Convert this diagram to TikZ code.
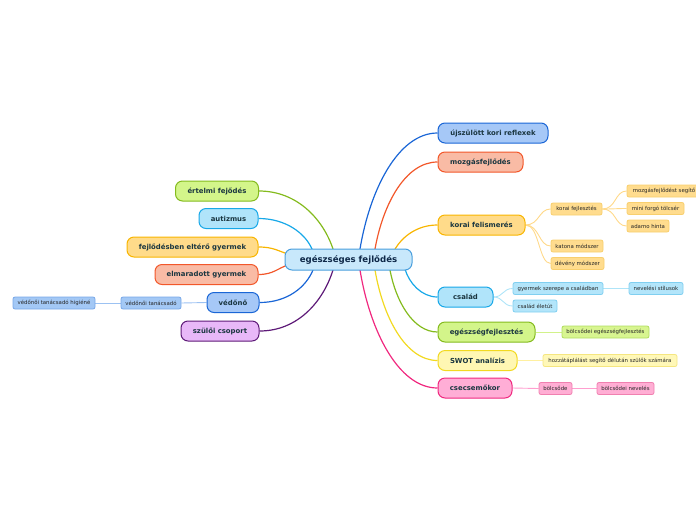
\documentclass[tikz,border=0pt]{standalone}
\usepackage{fontspec}
\setmainfont{DejaVu Sans}
\usetikzlibrary{backgrounds}
\definecolor{maintext}{HTML}{1A3640}
\definecolor{subtext}{HTML}{262626}
\definecolor{centtext}{HTML}{0E2848}
\definecolor{centfill}{HTML}{C8E8FB}
\definecolor{centdraw}{HTML}{4A9FDD}
\definecolor{bluefill}{HTML}{A6C8F7}
\definecolor{bluedraw}{HTML}{1A66D6}
\definecolor{redfill}{HTML}{F9BBA5}
\definecolor{reddraw}{HTML}{F2572A}
\definecolor{orfill}{HTML}{FFDB8A}
\definecolor{ordraw}{HTML}{F8B500}
\definecolor{cyanfill}{HTML}{B0E4FA}
\definecolor{cyandraw}{HTML}{17A8E8}
\definecolor{grfill}{HTML}{D3F58A}
\definecolor{grdraw}{HTML}{84BB1E}
\definecolor{yefill}{HTML}{FFF7B3}
\definecolor{yedraw}{HTML}{F2D920}
\definecolor{pkfill}{HTML}{FFAED6}
\definecolor{pkdraw}{HTML}{F0287F}
\definecolor{pufill}{HTML}{E8B8F8}
\definecolor{pudraw}{HTML}{5E1A78}
% sub node colours
\definecolor{sorfill}{HTML}{FFDC8E}
\definecolor{sordraw}{HTML}{F8CF6E}
\definecolor{sorline}{HTML}{FFD98A}
\definecolor{scyfill}{HTML}{B3E5FA}
\definecolor{scydraw}{HTML}{80CFF0}
\definecolor{scyline}{HTML}{AEE4F8}
\definecolor{sgrfill}{HTML}{D8F590}
\definecolor{sgrdraw}{HTML}{B0DC60}
\definecolor{sgrline}{HTML}{D2F28A}
\definecolor{syefill}{HTML}{FFF8B8}
\definecolor{syedraw}{HTML}{F5E680}
\definecolor{syeline}{HTML}{FFF0A0}
\definecolor{spkfill}{HTML}{FFAED4}
\definecolor{spkdraw}{HTML}{F080B0}
\definecolor{spkline}{HTML}{FF9ECF}
\definecolor{sblfill}{HTML}{A3C8F5}
\definecolor{sbldraw}{HTML}{78A8E8}
\definecolor{sblline}{HTML}{9CC2F2}
\tikzset{
  mainbox/.style={draw, rounded corners=7pt, line width=1pt, inner sep=0pt,
    minimum height=20pt, font=\fontsize{6.9}{8}\selectfont\bfseries, text=maintext},
  centbox/.style={draw=centdraw, fill=centfill, rounded corners=7pt, line width=1pt,
    inner sep=0pt, minimum height=21pt, minimum width=127pt,
    font=\fontsize{8.6}{10}\selectfont\bfseries, text=centtext},
  subbox/.style={draw, rounded corners=2pt, line width=0.8pt, inner sep=0pt,
    minimum height=12pt, font=\fontsize{5.4}{6}\selectfont, text=subtext},
  blue box/.style={mainbox, fill=bluefill, draw=bluedraw},
  red box/.style={mainbox, fill=redfill, draw=reddraw},
  or box/.style={mainbox, fill=orfill, draw=ordraw},
  cyan box/.style={mainbox, fill=cyanfill, draw=cyandraw},
  gr box/.style={mainbox, fill=grfill, draw=grdraw},
  ye box/.style={mainbox, fill=yefill, draw=yedraw},
  pk box/.style={mainbox, fill=pkfill, draw=pkdraw},
  pu box/.style={mainbox, fill=pufill, draw=pudraw},
  sor box/.style={subbox, fill=sorfill, draw=sordraw},
  scy box/.style={subbox, fill=scyfill, draw=scydraw},
  sgr box/.style={subbox, fill=sgrfill, draw=sgrdraw},
  sye box/.style={subbox, fill=syefill, draw=syedraw},
  spk box/.style={subbox, fill=spkfill, draw=spkdraw},
  sbl box/.style={subbox, fill=sblfill, draw=sbldraw},
  conn/.style={line width=1.2pt},
  subconn/.style={line width=0.9pt},
}
\begin{document}
\begin{tikzpicture}[x=1pt,y=-1pt]
\useasboundingbox (0,0) rectangle (696,520);

% central
\node[centbox] (c) at (348.5,259.5) {egészséges fejlődés};

% right main
\node[blue box, minimum width=110pt] (r1) at (493,133) {újszülött kori reflexek};
\node[red box, minimum width=85pt] (r2) at (480.5,162) {mozgásfejlődés};
\node[or box, minimum width=87pt] (r3) at (481.5,225) {korai felismerés};
\node[cyan box, minimum width=55pt] (r4) at (465.5,297) {család};
\node[gr box, minimum width=97pt] (r5) at (486.5,332) {egészségfejlesztés};
\node[ye box, minimum width=79pt] (r6) at (477.5,360.5) {SWOT analízis};
\node[pk box, minimum width=74pt] (r7) at (475,388) {csecsemőkor};

% left main
\node[gr box, minimum width=83pt] (l1) at (217,191) {értelmi fejődés};
\node[cyan box, minimum width=59pt] (l2) at (228.5,218.5) {autizmus};
\node[or box, minimum width=131pt] (l3) at (192.5,247) {fejlődésben eltérő gyermek};
\node[red box, minimum width=103pt] (l4) at (206.5,274.5) {elmaradott gyermek};
\node[blue box, minimum width=52pt] (l5) at (233,302.5) {védőnő};
\node[pu box, minimum width=78pt] (l6) at (220,331) {szülői csoport};

% sub nodes
\node[sor box, minimum width=51pt] (k1) at (576.5,209) {korai fejlesztés};
\node[sor box, minimum width=52pt] (k2) at (577,246) {katona módszer};
\node[sor box, minimum width=53pt] (k3) at (577.5,263.5) {dévény módszer};
\node[sor box, minimum width=74pt] (m1) at (664,191) {mozgásfejlődést segítő};
\node[sor box, minimum width=57pt] (m2) at (655.5,208.5) {mini forgó tölcsér};
\node[sor box, minimum width=42pt] (m3) at (648,226) {adamo hinta};
\node[scy box, minimum width=90pt] (q1) at (558,288.5) {gyermek szerepe a családban};
\node[scy box, minimum width=54pt] (q2) at (656,288.5) {nevelési stílusok};
\node[scy box, minimum width=44pt] (q3) at (535,306) {család életút};
\node[sgr box, minimum width=87pt] (e1) at (605.5,332) {bölcsődei egészségfejlesztés};
\node[sye box, minimum width=134pt] (w1) at (610,360.5) {hozzátáplálást segítő délután szülők számára};
\node[spk box, minimum width=33pt] (p1) at (555.5,388.5) {bölcsőde};
\node[spk box, minimum width=57pt] (p2) at (625.5,388.5) {bölcsődei nevelés};
\node[sbl box, minimum width=60pt] (v1) at (151,303) {védőnői tanácsadó};
\node[sbl box, minimum width=82pt] (v2) at (54,303) {védőnői tanácsadó higiéné};

% start points on the central node
\coordinate (s1) at (360,249);
\coordinate (s2) at (375,249);
\coordinate (s3) at (395,249);
\coordinate (s4) at (405,269);
\coordinate (s5) at (390,270);
\coordinate (s6) at (375,270);
\coordinate (s7) at (360,270);
\coordinate (t1) at (333,249);
\coordinate (t2) at (312,249);
\coordinate (t3) at (288,254);
\coordinate (t4) at (288,265);
\coordinate (t5) at (313,270);
\coordinate (t6) at (333,270);

\begin{scope}[on background layer]
\draw[conn, bluedraw] (s1) .. controls +(10,-60) and +(-39,0) .. (r1.west);
\draw[conn, reddraw] (s2) .. controls +(8,-45) and +(-32,0) .. (r2.west);
\draw[conn, ordraw] (s3) .. controls +(8,-13) and +(-20,0) .. (r3.west);
\draw[conn, cyandraw] (s4) .. controls +(4,14) and +(-16,0) .. (r4.west);
\draw[conn, grdraw] (s5) .. controls +(6,32) and +(-24,0) .. (r5.west);
\draw[conn, yedraw] (s6) .. controls +(8,47) and +(-32,0) .. (r6.west);
\draw[conn, pkdraw] (s7) .. controls +(10,61) and +(-39,0) .. (r7.west);
\draw[conn, grdraw] (t1) .. controls +(-10,-30) and +(38,0) .. (l1.east);
\draw[conn, cyandraw] (t2) .. controls +(-7,-16) and +(27,0) .. (l2.east);
\draw[conn, ordraw] (t3) .. controls +(-10,-3) and +(15,0) .. (l3.east);
\draw[conn, reddraw] (t4) .. controls +(-10,3) and +(15,0) .. (l4.east);
\draw[conn, bluedraw] (t5) .. controls +(-7,17) and +(28,0) .. (l5.east);
\draw[conn, pudraw] (t6) .. controls +(-10,32) and +(38,0) .. (l6.east);

\draw[subconn, sorline] (r3.east) .. controls +(14,0) and +(-12,0) .. (k1.west);
\draw[subconn, sorline] (r3.east) .. controls +(14,0) and +(-12,0) .. (k2.west);
\draw[subconn, sorline] (r3.east) .. controls +(14,0) and +(-12,0) .. (k3.west);
\draw[subconn, sorline] (k1.east) .. controls +(14,0) and +(-12,0) .. (m1.west);
\draw[subconn, sorline] (k1.east) .. controls +(14,0) and +(-12,0) .. (m2.west);
\draw[subconn, sorline] (k1.east) .. controls +(14,0) and +(-12,0) .. (m3.west);
\draw[subconn, scyline] (r4.east) .. controls +(10,0) and +(-10,0) .. (q1.west);
\draw[subconn, scyline] (r4.east) .. controls +(10,0) and +(-10,0) .. (q3.west);
\draw[subconn, scyline] (q1.east) -- (q2.west);
\draw[subconn, sgrline] (r5.east) -- (e1.west);
\draw[subconn, syeline] (r6.east) -- (w1.west);
\draw[subconn, spkline] (r7.east) -- (p1.west);
\draw[subconn, spkline] (p1.east) -- (p2.west);
\draw[subconn, sblline] (l5.west) -- (v1.east);
\draw[subconn, sblline] (v1.west) -- (v2.east);
\end{scope}
\end{tikzpicture}
\end{document}
